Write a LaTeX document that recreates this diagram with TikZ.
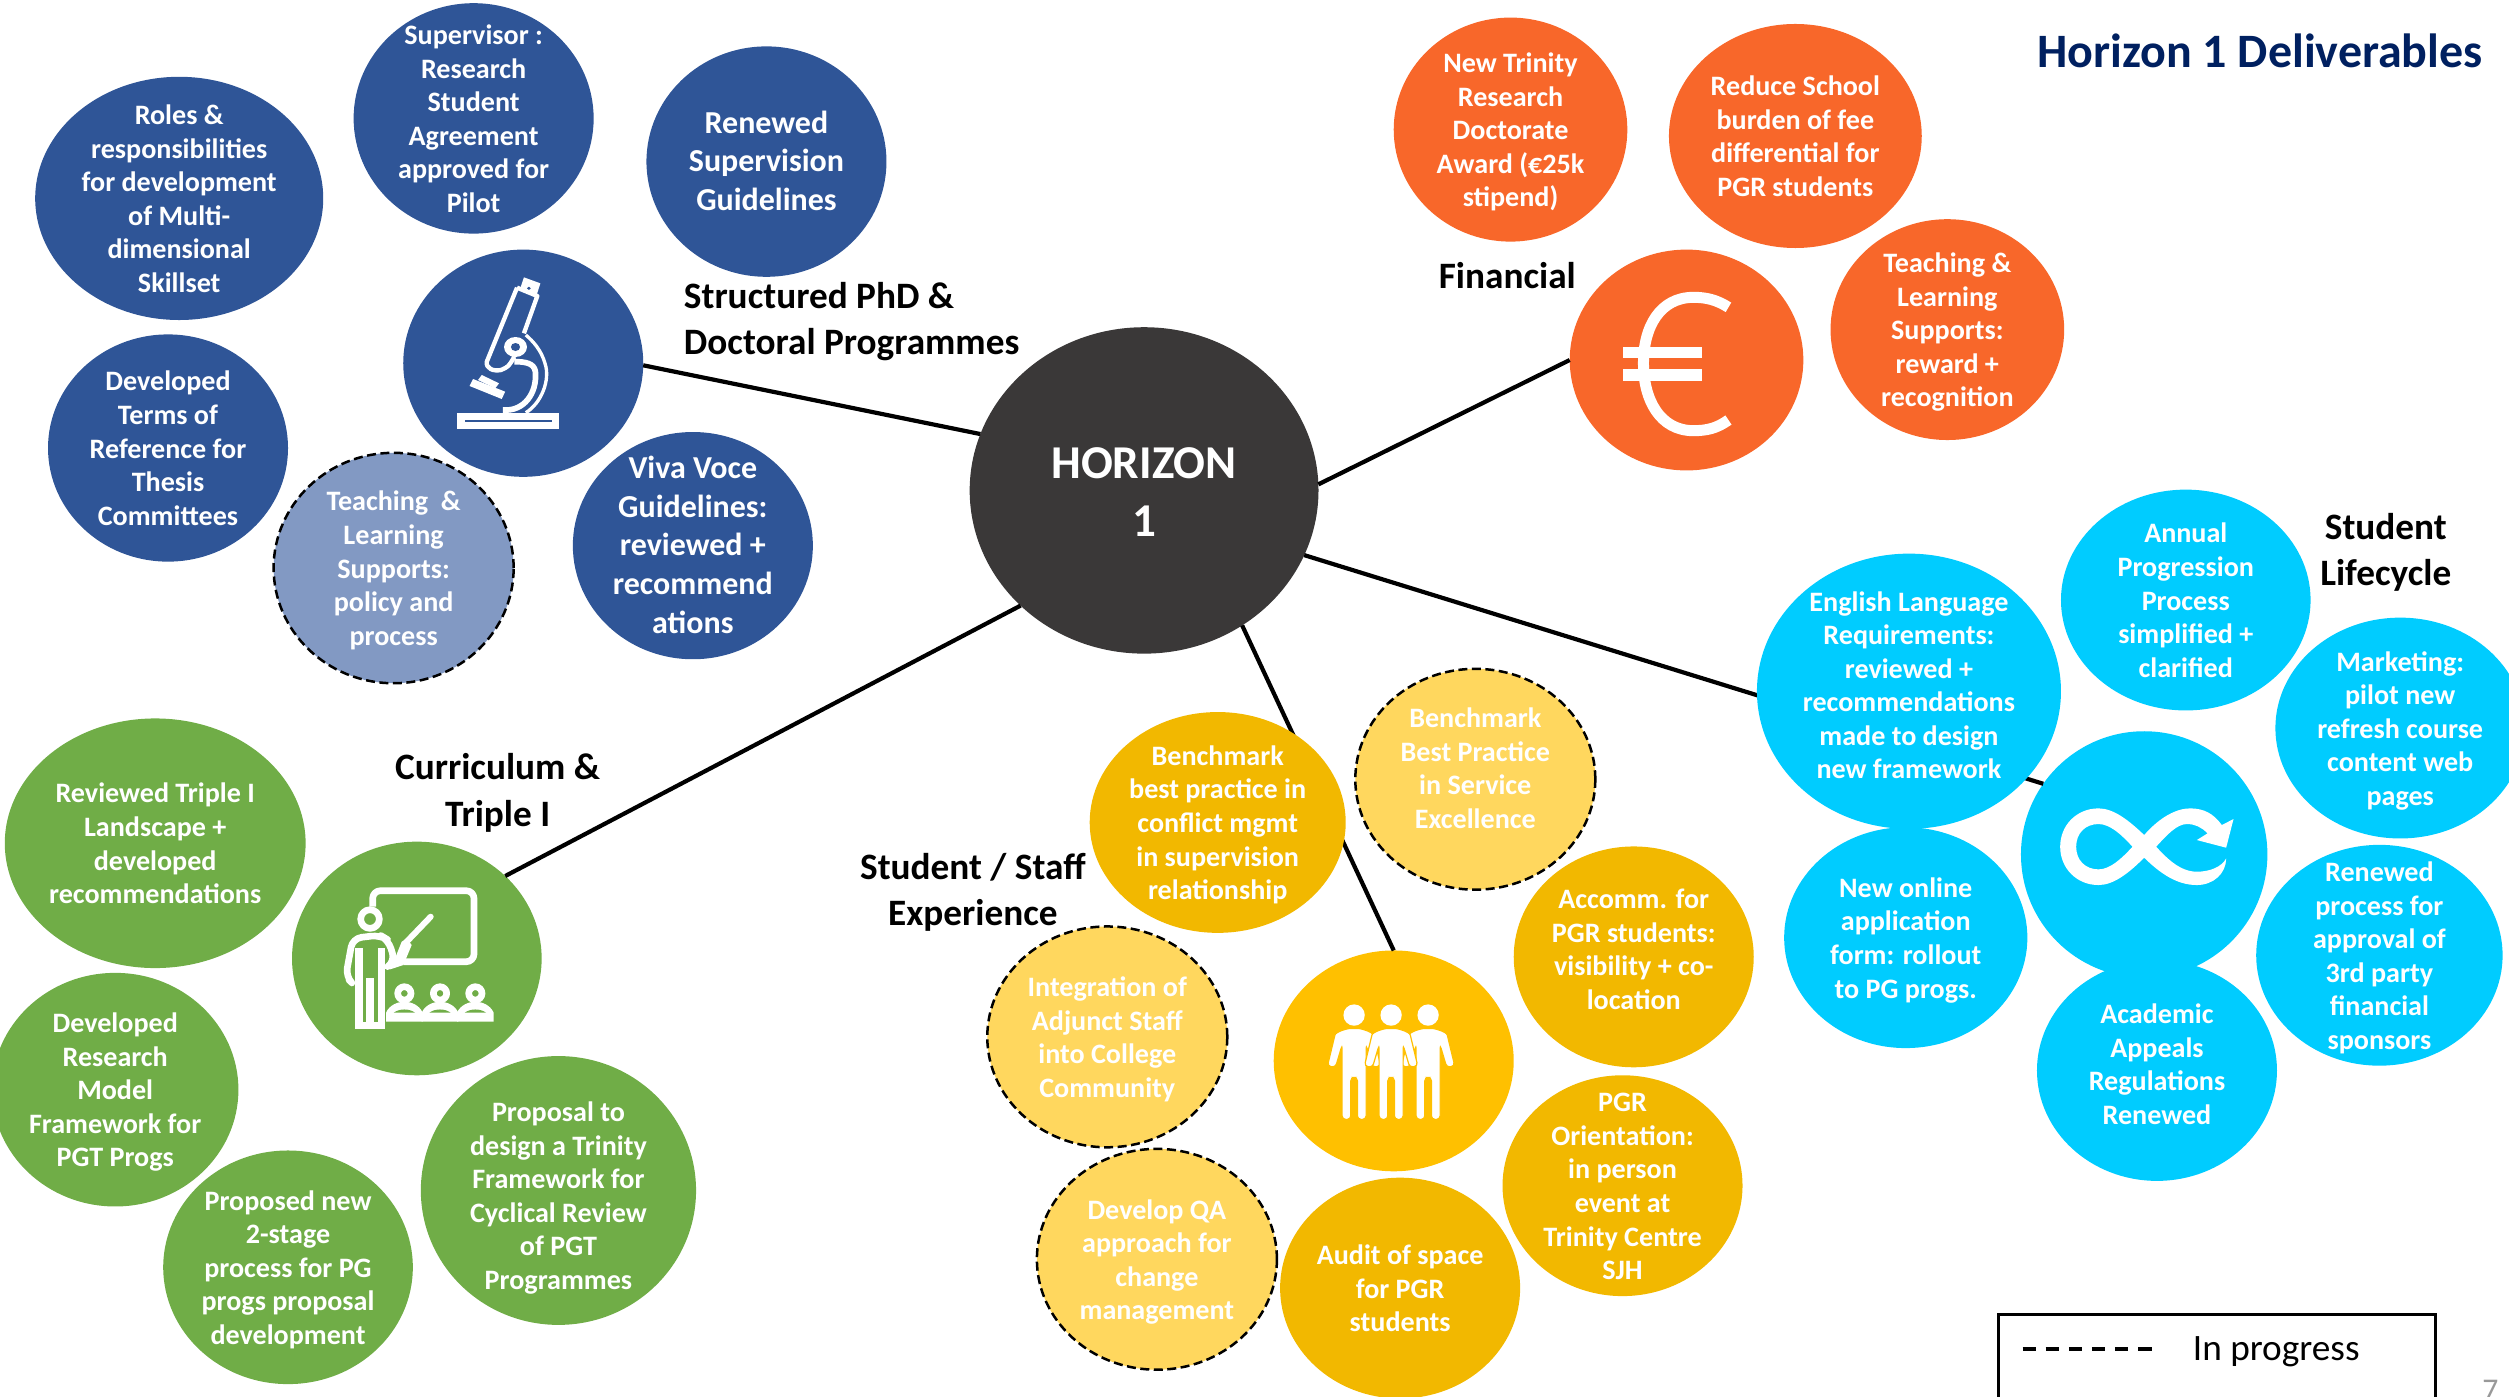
\documentclass[tikz,border=0pt]{standalone}
\usepackage{fontspec}
\setmainfont{Carlito}
\usetikzlibrary{shapes.geometric}
\newlength\ubb \setlength{\ubb}{.16001mm}
\newcommand\tx[2][0]{\smash{\makebox[0pt]{\raisebox{\dimexpr #1\ubb-6.5\ubb\relax}{\begin{tabular}[c]{@{}c@{}}#2\end{tabular}}}}}
\definecolor{cblue}{HTML}{2F5597}
\definecolor{cbluel}{HTML}{8299C3}
\definecolor{corange}{HTML}{F8672A}
\definecolor{ccyan}{HTML}{00CCFF}
\definecolor{cyel}{HTML}{F2B800}
\definecolor{cyeli}{HTML}{FFC000}
\definecolor{cyell}{HTML}{FFD75E}
\definecolor{cgreen}{HTML}{70AD47}
\definecolor{chub}{HTML}{3A3838}
\definecolor{cnavy}{HTML}{002060}
\tikzset{
  bub/.style 2 args={ellipse,inner sep=0pt,outer sep=0pt,text=white,
    minimum width={2*#1*.16001mm},minimum height={2*#2*.16001mm},
    font=\fontsize{8.0}{9.55}\selectfont\bfseries},
  bigt/.style={font=\fontsize{9.1}{11}\selectfont\bfseries},
  prog/.style={draw=black,line width=.25mm,dash pattern=on .9mm off .45mm},
  conn/.style={draw=black,line width=.42mm},
  lab/.style={inner sep=0pt,text=black,font=\fontsize{10.6}{13.1}\selectfont\bfseries,align=center},
  iw/.style={white,line width=#1*.16001mm/4.8,line join=round},
}
\begin{document}
\begin{tikzpicture}[x=.16001mm,y=-.16001mm]
\path[clip,use as bounding box] (0,0) rectangle (1568,873);
% hub and icon circles
\node[bub={109}{102},fill=chub,font=\fontsize{13.4}{16.4}\selectfont\bfseries] (hub) at (715,306.5) {\tx[-5]{HORIZON\\1}};
\node[bub={75}{71},fill=cblue] (micro) at (327,227) {};
\node[bub={73}{69},fill=corange] (euro) at (1054,225) {};
\node[bub={77}{77},fill=ccyan] (loop) at (1340,534) {};
\node[bub={75}{69},fill=cyeli] (people) at (871,663) {};
\node[bub={78}{73},fill=cgreen] (teach) at (260.5,599) {};
% connectors
\draw[conn] (hub.161.7) -- (micro.-1);
\draw[conn] (hub.2.9) -- (euro.180);
\draw[conn] (hub.-22.8) -- (loop.145.7);
\draw[conn] (hub.223) -- (teach.43.4);
\draw[conn] (hub.-54.3) -- (people.90);
% blue
\node[bub={90}{76},fill=cblue] (b1) at (112,124) {\tx{Roles \&\\responsibilities\\for development\\of Multi-\\dimensional\\Skillset}};
\node[bub={75}{72},fill=cblue] (b2) at (296,74) {\tx{Supervisor :\\Research\\Student\\Agreement\\approved for\\Pilot}};
\node[bub={75}{72},fill=cblue,bigt] (b3) at (479,101) {\tx{Renewed\\Supervision\\Guidelines}};
\node[bub={75}{71},fill=cblue] (b4) at (105,280) {\tx{Developed\\Terms of\\Reference for\\Thesis\\Committees}};
\node[bub={75}{72},fill=cbluel,prog] (b5) at (246,355) {\tx{Teaching\ \ \&\\Learning\\Supports:\\policy and\\process}};
\node[bub={75}{71},fill=cblue,bigt] (b6) at (433,341) {\tx{Viva Voce\\Guidelines:\\reviewed +\\recommend\\ations}};
% orange
\node[bub={73}{70},fill=corange] (o1) at (944,81) {\tx{New Trinity\\Research\\Doctorate\\Award (€25k\\stipend)}};
\node[bub={79}{70},fill=corange] (o2) at (1122,85) {\tx{Reduce School\\burden of fee\\differential for\\PGR students}};
\node[bub={73}{69},fill=corange] (o3) at (1217,206) {\tx{Teaching \&\\Learning\\Supports:\\reward +\\recognition}};
% cyan
\node[bub={95}{86},fill=ccyan] (c1) at (1193,432) {\tx[4]{English Language\\Requirements:\\reviewed +\\recommendations\\made to design\\new framework}};
\node[bub={78}{69},fill=ccyan] (c2) at (1366,375) {\tx{Annual\\Progression\\Process\\simplified +\\clarified}};
\node[bub={78}{69},fill=ccyan] (c3) at (1500,455) {\tx{Marketing:\\pilot new\\refresh course\\content web\\pages}};
\node[bub={77}{69},fill=ccyan] (c4) at (1487,597) {\tx{Renewed\\process for\\approval of\\3rd party\\financial\\sponsors}};
\node[bub={75}{69},fill=ccyan] (c5) at (1348,669) {\tx[4]{Academic\\Appeals\\Regulations\\Renewed}};
\node[bub={76}{69},fill=ccyan] (c6) at (1191,586) {\tx{New online\\application\\form: rollout\\to PG progs.}};
% yellow
\node[bub={80}{69},fill=cyel] (y1) at (761,514) {\tx{Benchmark\\best practice in\\conflict mgmt\\in supervision\\relationship}};
\node[bub={75}{69},fill=cyell,prog] (y2) at (922,487) {\tx[7]{Benchmark\\Best Practice\\in Service\\Excellence}};
\node[bub={75}{69},fill=cyel] (y3) at (1021,598) {\tx[5]{Accomm. for\\PGR students:\\visibility + co-\\location}};
\node[bub={75}{69},fill=cyell,prog] (y4) at (692,648) {\tx{Integration of\\Adjunct Staff\\into College\\Community}};
\node[bub={75}{69},fill=cyel] (y5) at (1014,741) {\tx{PGR\\Orientation:\\in person\\event at\\Trinity Centre\\SJH}};
\node[bub={75}{69},fill=cyell,prog] (y6) at (723,787) {\tx{Develop QA\\approach for\\change\\management}};
\node[bub={75}{69},fill=cyel] (y7) at (875,805) {\tx{Audit of space\\for PGR\\students}};
% green
\node[bub={94}{78},fill=cgreen] (g1) at (97,527) {\tx{Reviewed Triple I\\Landscape +\\developed\\recommendations}};
\node[bub={77}{73},fill=cgreen] (g2) at (72,681) {\tx{Developed\\Research\\Model\\Framework for\\PGT Progs}};
\node[bub={78}{73},fill=cgreen] (g3) at (180,792) {\tx{Proposed new\\2-stage\\process for PG\\progs proposal\\development}};
\node[bub={86}{84},fill=cgreen] (g4) at (349,744) {\tx[-3]{Proposal to\\design a Trinity\\Framework for\\Cyclical Review\\of PGT\\Programmes}};
% labels
\node[lab,align=left,anchor=west] (l1) at (427,201) {Structured PhD \&\\Doctoral Programmes};
\node[lab] (l2) at (942,172) {Financial};
\node[lab] (l3) at (1491,345.5) {Student\\Lifecycle};
\node[lab] (l4) at (311,495.5) {Curriculum \&\\Triple I};
\node[lab] (l5) at (608,557.5) {Student / Staff\\Experience};
\node[inner sep=0pt,anchor=east,text=cnavy,font=\fontsize{13.65}{16}\selectfont\bfseries] (title) at (1552,32) {Horizon 1 Deliverables};
% legend
\coordinate (la) at (1249,873); \coordinate (lb) at (1249,821.5);
\coordinate (lc) at (1522,821.5); \coordinate (ld) at (1522,873);
\draw[black,line width=.27mm] (la) -- (lb) -- (lc) -- (ld);
\coordinate (da) at (1264,843); \coordinate (db) at (1347,843);
\draw[black,line width=.33mm,dash pattern=on 1.35mm off .96mm] (da) -- (db);
\node[inner sep=0pt,anchor=west,font=\fontsize{10.6}{13}\selectfont] (leg) at (1370,845) {In progress};
\node[inner sep=0pt,anchor=base,text=gray!80,font=\fontsize{9}{10}\selectfont] (pg) at (1556.4,875) {7};
% microscope icon
\begin{scope}[shift={(187.5,137.5)},x=.16001mm/4.181,y=-.16001mm/4.8]
\fill[white] (410,578) rectangle (677,627);
\fill[cblue] (430,600) rectangle (658,605);
\fill[white] (585,172) -- (628,190) -- (618,226) -- (575,207) -- cycle;
\fill[cblue] (598,205) circle [radius=5];
\draw[iw=13] (567,203) -- (620,228) -- (585,340);
\draw[iw=13] (567,203) -- (488,425) .. controls (485,445) and (505,455) .. (525,450) .. controls (545,440) .. (560,410);
\fill[white] (475,465) -- (520,490) -- (510,505) -- (465,480) -- cycle;
\fill[white] (452,477) -- (536,515) -- (527,537) -- (443,498) -- cycle;
\draw[iw=17] (530,570) .. controls (585,575) and (620,520) .. (615,455) .. controls (612,430) and (590,425) .. (560,425);
\draw[iw=10] (590,578) .. controls (630,550) and (655,480) .. (640,430) .. controls (630,390) and (610,365) .. (590,345);
\fill[white] (563,381) circle [radius=30];
\fill[cblue] (563,381) circle [radius=12];
\end{scope}
% teacher icon
\begin{scope}[shift={(175,518.75)},x=.16001mm/4.8,y=-.16001mm/4.8]
\draw[iw=20,rounded corners=2.2pt] (278,230) -- (278,182) -- (582,182) -- (582,395) -- (370,395);
\draw[iw=20] (270,267) circle [radius=28];
\draw[iw=20,line cap=round,rounded corners=2.5pt] (207,450) -- (197,440) -- (218,325) -- (300,315) -- (325,330) -- (345,395) -- (330,405);
\draw[iw=18,line cap=round] (380,335) -- (452,260);
\fill[white] (330,395) -- (345,385) -- (365,335) -- (380,325) -- (395,345) -- (370,405) -- (330,418) -- cycle;
\fill[white] (225,355) rectangle (248,597);
\fill[white] (295,355) rectangle (316,597);
\fill[white] (258,445) rectangle (282,580);
\fill[white] (225,575) rectangle (316,597);
\foreach \c in {373,480,586}{
  \draw[iw=20] (\c,490) circle [radius=20];
  \fill[white] (\c-55,575) -- (\c-55,548) .. controls (\c-45,525) and (\c-20,515) .. (\c,515) .. controls (\c+20,515) and (\c+45,525) .. (\c+55,548) -- (\c+55,575) -- cycle;
  \fill[cgreen] (\c-32,548) .. controls (\c-15,535) and (\c+15,535) .. (\c+32,548) -- cycle;
}
\end{scope}
% euro icon
\begin{scope}[shift={(975,156.25)},x=.16001mm/4.8,y=-.16001mm/4.8]
\draw[iw=33] (505,172) .. controls (470,150) and (440,142) .. (400,142) .. controls (300,142) and (250,230) .. (250,340) .. controls (250,450) and (300,542) .. (400,542) .. controls (440,542) and (470,535) .. (505,510);
\fill[white] (190,292) rectangle (425,325);
\fill[white] (190,358) rectangle (425,392);
\end{scope}
% infinity icon
\begin{scope}[shift={(1250,450)},x=.16001mm/4.8,y=-.16001mm/4.8]
\fill[white,even odd rule] (432,345) .. controls (480,290) and (530,265) .. (570,265) .. controls (610,265) and (640,280) .. (665,315) -- (700,297) -- (678,383) -- (590,360) -- (622,340) .. controls (605,322) and (585,312) .. (560,312) .. controls (530,312) and (500,345) .. (468,380) .. controls (500,415) and (540,455) .. (590,455) .. controls (630,455) and (665,440) .. (678,415) .. controls (678,460) and (640,495) .. (590,495) .. controls (530,495) and (480,460) .. (432,413) .. controls (385,460) and (340,495) .. (295,495) .. controls (230,495) and (180,445) .. (180,380) .. controls (180,315) and (230,265) .. (295,265) .. controls (340,265) and (385,300) .. (432,345) -- cycle
 (397,380) .. controls (365,345) and (330,312) .. (295,312) .. controls (255,312) and (228,340) .. (228,380) .. controls (228,420) and (255,448) .. (295,448) .. controls (330,448) and (365,415) .. (397,380) -- cycle;
\end{scope}
% people icon
\begin{scope}[shift={(793.75,600)},x=.16001mm/4.8,y=-.16001mm/4.8]
\foreach \c in {252,474,363}{
  \fill[white] (\c,165) circle [radius=32];
  \draw[cyeli,line width=.12mm,fill=white,rounded corners=1pt] (\c-36,478) -- (\c-36,255) -- (\c-56,322) -- (\c-80,318) -- (\c-60,235) .. controls (\c-55,215) and (\c-20,205) .. (\c,205) .. controls (\c+20,205) and (\c+55,215) .. (\c+60,235) -- (\c+80,318) -- (\c+56,322) -- (\c+36,255) -- (\c+36,478) -- (\c+10,478) -- (\c+10,352) -- (\c-10,352) -- (\c-10,478) -- cycle;
}
\end{scope}
\end{tikzpicture}
\end{document}
